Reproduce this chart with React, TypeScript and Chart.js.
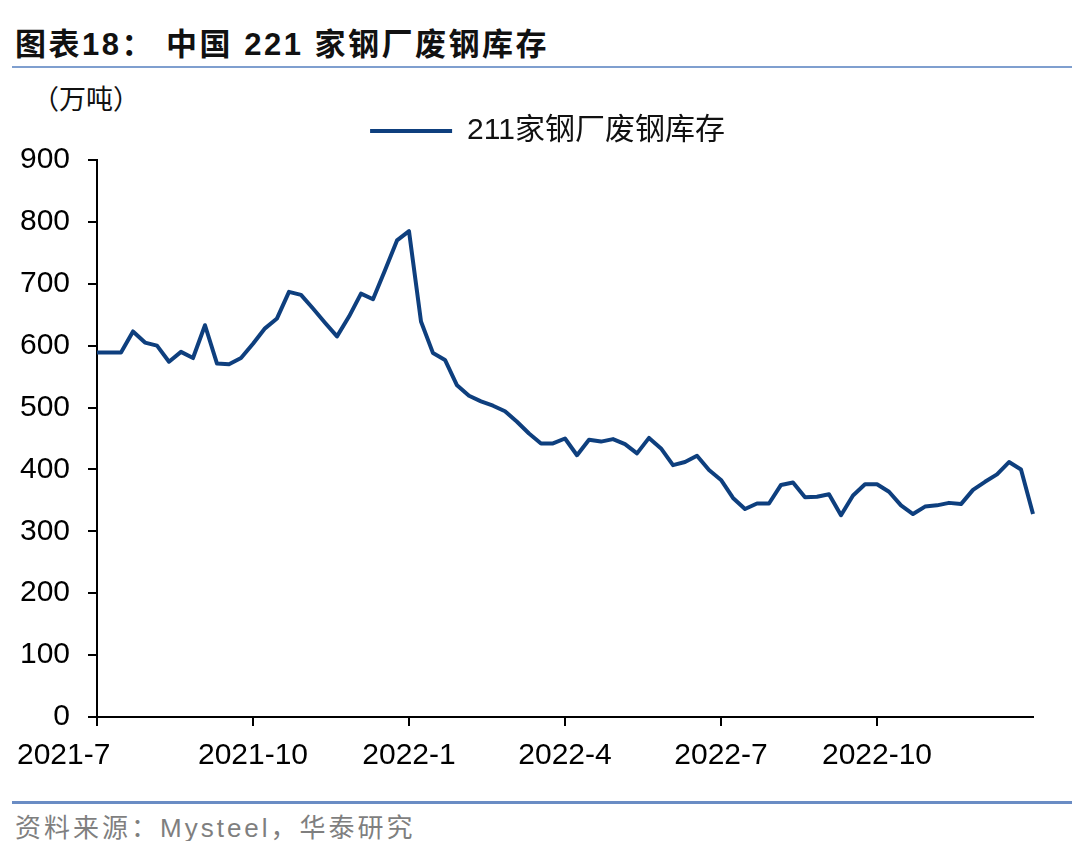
import React, { useEffect, useRef } from "react";
import { Chart, registerables } from "chart.js";

Chart.register(...registerables);

// Weekly observation dates (Thursdays)
const dates: string[] = [
  "2021-07-01", "2021-07-08", "2021-07-15", "2021-07-22", "2021-07-29",
  "2021-08-05", "2021-08-12", "2021-08-19", "2021-08-26",
  "2021-09-02", "2021-09-09", "2021-09-16", "2021-09-23", "2021-09-30",
  "2021-10-07", "2021-10-14", "2021-10-21", "2021-10-28",
  "2021-11-04", "2021-11-11", "2021-11-18", "2021-11-25",
  "2021-12-02", "2021-12-09", "2021-12-16", "2021-12-23", "2021-12-30",
  "2022-01-06", "2022-01-13", "2022-01-20", "2022-01-27",
  "2022-02-03", "2022-02-10", "2022-02-17", "2022-02-24",
  "2022-03-03", "2022-03-10", "2022-03-17", "2022-03-24", "2022-03-31",
  "2022-04-07", "2022-04-14", "2022-04-21", "2022-04-28",
  "2022-05-05", "2022-05-12", "2022-05-19", "2022-05-26",
  "2022-06-02", "2022-06-09", "2022-06-16", "2022-06-23", "2022-06-30",
  "2022-07-07", "2022-07-14", "2022-07-21", "2022-07-28",
  "2022-08-04", "2022-08-11", "2022-08-18", "2022-08-25",
  "2022-09-01", "2022-09-08", "2022-09-15", "2022-09-22", "2022-09-29",
  "2022-10-06", "2022-10-13", "2022-10-20", "2022-10-27",
  "2022-11-03", "2022-11-10", "2022-11-17", "2022-11-24",
  "2022-12-01", "2022-12-08", "2022-12-15", "2022-12-22", "2022-12-29",
];

// 211家钢厂废钢库存 (万吨)
const inventory: number[] = [
  589, 589, 589, 623, 605, 600, 574, 590, 580, 633, 571, 570, 580, 603,
  628, 644, 687, 682, 660, 637, 615, 647, 684, 675, 722, 770, 785,
  639, 588, 577, 536, 519, 510, 503, 494, 477, 458, 442, 442, 450,
  423, 448, 445, 449, 441, 426, 451, 434, 407, 412, 422, 399, 383,
  354, 336, 345, 345, 375, 379, 355, 356, 360, 326, 358, 376, 376,
  364, 342, 328, 340, 342, 346, 344, 367, 380, 392, 412, 400, 328,
];

const tickDates: string[] = ["2021-07-01", "2021-09-30", "2021-12-30", "2022-03-31", "2022-06-30", "2022-09-29"];
const tickLabels: string[] = ["2021-7", "2021-10", "2022-1", "2022-4", "2022-7", "2022-10"];

const seriesName = "211家钢厂废钢库存";
const lineColor = "#0e3f7e";
const tickFont = { family: "'Liberation Sans', Arial, sans-serif", size: 30 };

export default function App() {
  const canvasRef = useRef<HTMLCanvasElement | null>(null);

  useEffect(() => {
    if (!canvasRef.current) return;
    const legendTweak = {
      id: "legendTweak",
      beforeInit(chart: any) {
        const lg = chart.legend;
        if (!lg) return;
        const orig = lg.fit;
        lg.fit = function () {
          orig.call(this);
          this.height = 52;
        };
      },
      afterLayout(chart: any) {
        const lg = chart.legend;
        if (!lg) return;
        lg.left += 27;
        lg.right += 27;
      },
    };
    const chart = new Chart(canvasRef.current, {
      type: "line",
      data: {
        labels: dates,
        datasets: [
          {
            label: seriesName,
            data: inventory,
            borderColor: lineColor,
            backgroundColor: lineColor,
            borderWidth: 4,
            pointRadius: 0,
            tension: 0,
            borderJoinStyle: "round",
          },
        ],
      },
      options: {
        animation: false,
        responsive: false,
        layout: { padding: { top: 0, right: 39, bottom: 0, left: 0 } },
        plugins: {
          tooltip: { enabled: false },
          legend: {
            display: true,
            position: "top",
            labels: {
              boxWidth: 82,
              boxHeight: 4,
              padding: 8,
              color: "#111",
              font: { family: "'Liberation Sans', 'Noto Sans CJK SC', sans-serif", size: 30 },
              generateLabels: (c: any) =>
                (Chart.defaults.plugins.legend.labels as any)
                  .generateLabels(c)
                  .map((l: any) => ({ ...l, lineWidth: 0, fillStyle: lineColor })),
            },
          },
        },
        scales: {
          x: {
            type: "category",
            offset: false,
            afterBuildTicks: (scale: any) => {
              scale.ticks = scale.ticks.filter((t: any) => tickDates.includes(dates[t.value]));
            },
            afterFit: (scale: any) => {
              scale.height = 71;
              scale.paddingLeft = 0;
              scale.paddingRight = 0;
            },
            ticks: {
              autoSkip: false,
              maxRotation: 0,
              minRotation: 0,
              padding: 12,
              color: "#000",
              font: tickFont,
              callback: (value: any) => {
                const i = tickDates.indexOf(dates[Number(value)]);
                if (i < 0) return "";
                // first label sits left of its tick, as in the source chart
                return i === 0 ? tickLabels[i] + "        " : tickLabels[i];
              },
            },
            grid: {
              drawOnChartArea: false,
              drawTicks: true,
              tickLength: 9,
              color: "#000",
              lineWidth: 2,
            },
            border: { color: "#000", width: 2 },
          },
          y: {
            min: 0,
            max: 900,
            afterFit: (scale: any) => {
              scale.width = 89;
            },
            ticks: {
              stepSize: 100,
              padding: 18,
              color: "#000",
              font: tickFont,
            },
            grid: {
              drawOnChartArea: false,
              drawTicks: true,
              tickLength: 9,
              color: "#000",
              lineWidth: 2,
            },
            border: { color: "#000", width: 2 },
          },
        },
      },
      plugins: [legendTweak],
    });
    return () => chart.destroy();
  }, []);

  const cjk = "'Liberation Sans', 'Noto Sans CJK SC', sans-serif";

  return (
    <div style={{ position: "relative", width: 1064, height: 833, background: "#fff" }}>
      <div
        style={{
          position: "absolute",
          left: 7,
          top: 21,
          fontFamily: cjk,
          fontWeight: 700,
          fontSize: 31,
          lineHeight: "31px",
          letterSpacing: 2.5,
          color: "#111",
          whiteSpace: "nowrap",
        }}
      >
        图表18： 中国 221 家钢厂废钢库存
      </div>
      <div style={{ position: "absolute", left: 4, top: 58, width: 1060, height: 2, background: "#7f9fcf" }} />
      <div
        style={{
          position: "absolute",
          left: 24,
          top: 79,
          fontFamily: cjk,
          fontSize: 27,
          lineHeight: "27px",
          color: "#111",
          whiteSpace: "nowrap",
        }}
      >
        （万吨）
      </div>
      <canvas
        ref={canvasRef}
        width={1064}
        height={680}
        style={{ position: "absolute", left: 0, top: 100, width: 1064, height: 680 }}
      />
      <div style={{ position: "absolute", left: 4, top: 793, width: 1060, height: 3, background: "#6a8cc4" }} />
      <div
        style={{
          position: "absolute",
          left: 7,
          top: 807,
          fontFamily: cjk,
          fontSize: 26,
          lineHeight: "26px",
          letterSpacing: 3,
          color: "#7f7f7f",
          whiteSpace: "nowrap",
        }}
      >
        资料来源：Mysteel，华泰研究
      </div>
    </div>
  );
}
